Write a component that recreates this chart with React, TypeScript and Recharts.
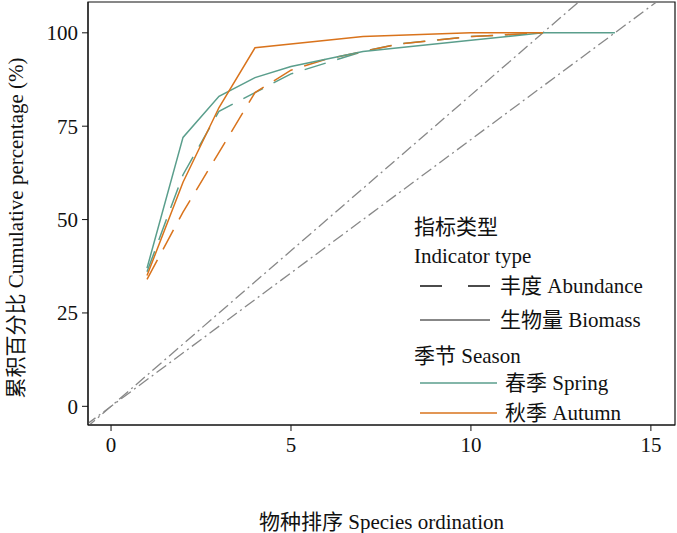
import { ComposedChart, Line, XAxis, YAxis, ReferenceArea } from 'recharts';

const springBiomassX = [1, 2, 3, 4, 5, 7, 10, 12, 14];
const springBiomassY = [37, 72, 83, 88, 91, 95, 98, 100, 100];
const springAbundX = [1, 2, 3, 4, 5, 6, 7, 8, 9, 10, 11, 12];
const springAbundY = [36, 62, 79, 84, 89, 92, 95, 97, 98, 99, 99.5, 100];
const autumnBiomassX = [1, 2, 3, 4, 7, 10, 12];
const autumnBiomassY = [35, 60, 80, 96, 99, 100, 100];
const autumnAbundX = [1, 2, 3, 4, 5, 6, 7, 8, 9, 10, 11, 12];
const autumnAbundY = [34, 52, 68, 84, 90, 93, 95, 97, 98, 99, 99.5, 100];
const refX = [-0.7, 16];
const xTicks = [0, 5, 10, 15];
const yTicks = [0, 25, 50, 75, 100];

const zip = (xs: number[], ys: number[]) => xs.map((x, i) => ({ x, y: ys[i] }));
const SPRING = '#5a9e8c';
const AUTUMN = '#d9731c';
const FONT = '"Liberation Serif", "Noto Sans CJK SC", serif';

export default function App() {
  return (
    <div style={{ position: 'absolute', left: 0, top: 0, width: 677, height: 533, background: '#fff', fontFamily: FONT }}>
      <ComposedChart width={677} height={533} margin={{ top: 2, right: 2, bottom: 78, left: 28 }}>
        <XAxis type="number" dataKey="x" domain={[-0.64, 15.67]} ticks={xTicks} allowDataOverflow
          tick={{ fontSize: 21, fill: '#111', fontFamily: FONT }} stroke="#111" tickSize={6} tickMargin={6} />
        <YAxis type="number" dataKey="y" domain={[-5, 108.25]} ticks={yTicks} allowDataOverflow width={60}
          tick={{ fontSize: 21, fill: '#111', fontFamily: FONT }} stroke="#111" tickSize={6} tickMargin={4} />
        <ReferenceArea x1={-0.64} x2={15.67} y1={-5} y2={108.25} fill="none" stroke="#111" strokeWidth={1.2} ifOverflow="visible" />
        <Line data={zip(refX, refX.map((x) => (100 * x) / 12))} dataKey="y" stroke="#888" strokeDasharray="12 4 2 4" dot={false} isAnimationActive={false} strokeWidth={1.3} />
        <Line data={zip(refX, refX.map((x) => (100 * x) / 14))} dataKey="y" stroke="#888" strokeDasharray="12 4 2 4" dot={false} isAnimationActive={false} strokeWidth={1.3} />
        <Line data={zip(springAbundX, springAbundY)} dataKey="y" stroke={SPRING} strokeDasharray="22 12" dot={false} isAnimationActive={false} strokeWidth={1.5} />
        <Line data={zip(autumnAbundX, autumnAbundY)} dataKey="y" stroke={AUTUMN} strokeDasharray="22 12" dot={false} isAnimationActive={false} strokeWidth={1.5} />
        <Line data={zip(springBiomassX, springBiomassY)} dataKey="y" stroke={SPRING} dot={false} isAnimationActive={false} strokeWidth={1.5} />
        <Line data={zip(autumnBiomassX, autumnBiomassY)} dataKey="y" stroke={AUTUMN} dot={false} isAnimationActive={false} strokeWidth={1.5} />
      </ComposedChart>
      <div style={{ position: 'absolute', left: 0, top: 0, width: 28, height: 455, display: 'flex', alignItems: 'center', justifyContent: 'center' }}>
        <div style={{ transform: 'rotate(-90deg)', whiteSpace: 'nowrap', fontSize: 21, color: '#111' }}>累积百分比 Cumulative percentage (%)</div>
      </div>
      <div style={{ position: 'absolute', left: 88, width: 587, top: 505, textAlign: 'center', fontSize: 21, color: '#111' }}>物种排序 Species ordination</div>
      <svg style={{ position: 'absolute', left: 0, top: 0 }} width={677} height={533}>
        <g fontFamily={FONT} fontSize={21} fill="#111">
          <text x={414} y={234}>指标类型</text>
          <text x={414} y={263}>Indicator type</text>
          <line x1={420} x2={490} y1={286} y2={286} stroke="#111" strokeWidth={1.5} strokeDasharray="22 26" />
          <text x={500} y={293}>丰度 Abundance</text>
          <line x1={420} x2={490} y1={320} y2={320} stroke="#111" strokeWidth={1} />
          <text x={500} y={327}>生物量 Biomass</text>
          <text x={414} y={363}>季节 Season</text>
          <line x1={420} x2={497} y1={383} y2={383} stroke={SPRING} strokeWidth={1.5} />
          <text x={505} y={390}>春季 Spring</text>
          <line x1={420} x2={497} y1={413} y2={413} stroke={AUTUMN} strokeWidth={1.5} />
          <text x={505} y={420}>秋季 Autumn</text>
        </g>
      </svg>
    </div>
  );
}
